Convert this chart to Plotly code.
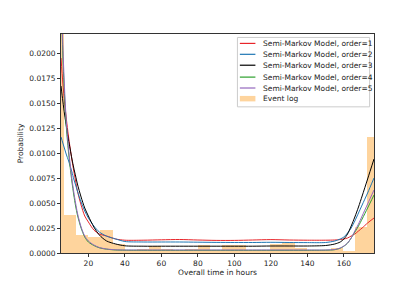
import plotly.graph_objects as go

# ---- data ----
x_pts = [5, 6, 7, 8, 9, 10, 11, 12, 13, 14, 16, 18, 20, 23, 26, 30, 35, 40, 50, 60, 70, 80,
         90, 100, 110, 120, 130, 140, 150, 155, 158, 160, 162, 164, 166, 168, 170, 173, 176.5]

order1 = [0.0195, 0.0170, 0.0150, 0.0133, 0.0118, 0.0105, 0.0093, 0.0082, 0.0072, 0.0062, 0.0048,
          0.0037, 0.0031, 0.0023, 0.0019, 0.0017, 0.0014, 0.00128, 0.00128, 0.00132, 0.00135, 0.0013,
          0.00126, 0.00126, 0.0013, 0.00134, 0.0013, 0.00128, 0.00128, 0.0013, 0.00135, 0.0014, 0.0015,
          0.0017, 0.0019, 0.0022, 0.0025, 0.0030, 0.0035]
order2 = [0.0116, 0.0110, 0.0104, 0.0098, 0.0093, 0.0087, 0.0081, 0.0074, 0.0068, 0.0062, 0.0051,
          0.0042, 0.0035, 0.0027, 0.0021, 0.00168, 0.0014, 0.00115, 0.0011, 0.0011, 0.0011, 0.00108,
          0.00106, 0.00105, 0.00105, 0.00107, 0.00105, 0.00104, 0.00105, 0.0012, 0.0014, 0.0016, 0.0020,
          0.0025, 0.0032, 0.0040, 0.0048, 0.0060, 0.0075]
order3 = [0.0167, 0.0152, 0.0138, 0.0126, 0.0114, 0.0104, 0.0094, 0.0085, 0.0077, 0.0069, 0.0056,
          0.0045, 0.0037, 0.0026, 0.0018, 0.0012, 0.0009, 0.00072, 0.00068, 0.00068, 0.00068, 0.00068,
          0.00068, 0.00068, 0.00068, 0.0007, 0.0007, 0.0007, 0.00075, 0.0009, 0.0011, 0.0014, 0.0019,
          0.0027, 0.0036, 0.0046, 0.0057, 0.0074, 0.0094]
order4 = [0.0270, 0.0198, 0.0155, 0.0124, 0.0103, 0.0086, 0.0071, 0.0058, 0.0047, 0.0038, 0.0025,
          0.0016, 0.0011, 0.00075, 0.00052, 0.00038, 0.0003, 0.00028, 0.00027, 0.00027, 0.00027, 0.00027,
          0.00027, 0.00027, 0.00027, 0.00027, 0.00027, 0.00027, 0.00028, 0.00033, 0.00048, 0.00068, 0.00098,
          0.0015, 0.0021, 0.0027, 0.0034, 0.0045, 0.0058]
order5 = [0.0285, 0.0208, 0.0162, 0.0129, 0.0107, 0.0089, 0.0074, 0.0061, 0.0050, 0.0040, 0.0026,
          0.0017, 0.0012, 0.0008, 0.00055, 0.0004, 0.00032, 0.0003, 0.0003, 0.0003, 0.0003, 0.0003,
          0.0003, 0.0003, 0.0003, 0.0003, 0.0003, 0.0003, 0.0003, 0.00035, 0.0005, 0.0007, 0.0010,
          0.0015, 0.0022, 0.0029, 0.0037, 0.0049, 0.0063]

event_log = [0.0300, 0.0038, 0.00184, 0.0016, 0.00234, 0.0009, 0.0003, 0.0004, 0.00075, 0.0004,
             0.0003, 0.00045, 0.00085, 0.0003, 0.0008, 0.0008, 0.0003, 0.0003, 0.00095, 0.0011,
             0.0005, 0.00035, 0.0003, 0.00055, 0.0002, 0.00264, 0.0116]
bin_width = 6.65

series_names = ["Semi-Markov Model, order=1", "Semi-Markov Model, order=2",
                "Semi-Markov Model, order=3", "Semi-Markov Model, order=4",
                "Semi-Markov Model, order=5"]
series_colors = ["#e8252a", "#1f77b4", "#000000", "#2ca02c", "#9467bd"]
bar_name = "Event log"
bar_color = "rgba(253,170,60,0.5)"
x_ticks = [20, 40, 60, 80, 100, 120, 140, 160]
y_ticks = [0.0, 0.0025, 0.005, 0.0075, 0.01, 0.0125, 0.015, 0.0175, 0.02]

bin_centers = [bin_width * (i + 0.5) for i in range(len(event_log))]

fig = go.Figure()
for name, ys, col in zip(series_names, [order1, order2, order3, order4, order5], series_colors):
    fig.add_trace(go.Scatter(x=x_pts, y=ys, mode="lines", name=name, showlegend=False,
                             line=dict(color=col, width=1, shape="spline", smoothing=0.8)))
fig.add_trace(go.Bar(x=bin_centers, y=event_log, width=bin_width, name=bar_name, showlegend=False,
                     marker=dict(color=bar_color, line=dict(width=0))))

# ---- compact legend (matplotlib-like), drawn in paper coordinates ----
PL, PR, PT, PB = 52, 374, 34, 255   # plot area in page pixels


def px(xp):
    return (xp - PL) / (PR - PL)


def py(yp):
    return (PB - yp) / (PB - PT)


legend_font = dict(family="DejaVu Sans", size=7.5, color="#222")
shapes = [dict(type="rect", xref="paper", yref="paper", x0=px(233.5), x1=px(369.5),
               y0=py(107.5), y1=py(37.5),
               line=dict(color="#cccccc", width=1), fillcolor="rgba(255,255,255,0.8)", layer="above")]
annotations = []
row_y = [43.5, 54.5, 65.5, 77.5, 88.5, 99.5]
for i, (name, col) in enumerate(zip(series_names, series_colors)):
    shapes.append(dict(type="line", xref="paper", yref="paper", x0=px(236), x1=px(252),
                       y0=py(row_y[i]), y1=py(row_y[i]), line=dict(color=col, width=1.2), layer="above"))
    annotations.append(dict(xref="paper", yref="paper", x=px(257.5), y=py(row_y[i]), text=name,
                            showarrow=False, xanchor="left", yanchor="middle", font=legend_font))
shapes.append(dict(type="rect", xref="paper", yref="paper", x0=px(236), x1=px(252),
                   y0=py(row_y[5] + 2.5), y1=py(row_y[5] - 3), line=dict(width=0),
                   fillcolor=bar_color, layer="above"))
annotations.append(dict(xref="paper", yref="paper", x=px(257.5), y=py(row_y[5]), text=bar_name,
                        showarrow=False, xanchor="left", yanchor="middle", font=legend_font))

font = dict(family="DejaVu Sans", size=7.5, color="#222")
# the page body has an 8px default margin, so the figure is sized to fit the 416x287 window
fig.update_layout(
    width=408, height=279,
    margin=dict(l=PL - 8, r=416 - PR, t=PT - 8, b=287 - PB),
    paper_bgcolor="white", plot_bgcolor="white",
    font=font, bargap=0, showlegend=False,
    shapes=shapes, annotations=annotations,
)
fig.update_xaxes(range=[5, 176.5], tickvals=x_ticks, ticks="outside", ticklen=3,
                 tickcolor="#333", showline=True, linecolor="#333", linewidth=1, mirror=True,
                 showgrid=False, zeroline=False,
                 title=dict(text="Overall time in hours", standoff=2, font=font))
fig.update_yaxes(range=[0, 0.0219], tickvals=y_ticks, tickformat=".4f", ticks="outside",
                 ticklen=3, tickcolor="#333", showline=True, linecolor="#333", linewidth=1,
                 mirror=True, showgrid=False, zeroline=False,
                 title=dict(text="Probability", standoff=4, font=font))

fig.write_html("out.html")
